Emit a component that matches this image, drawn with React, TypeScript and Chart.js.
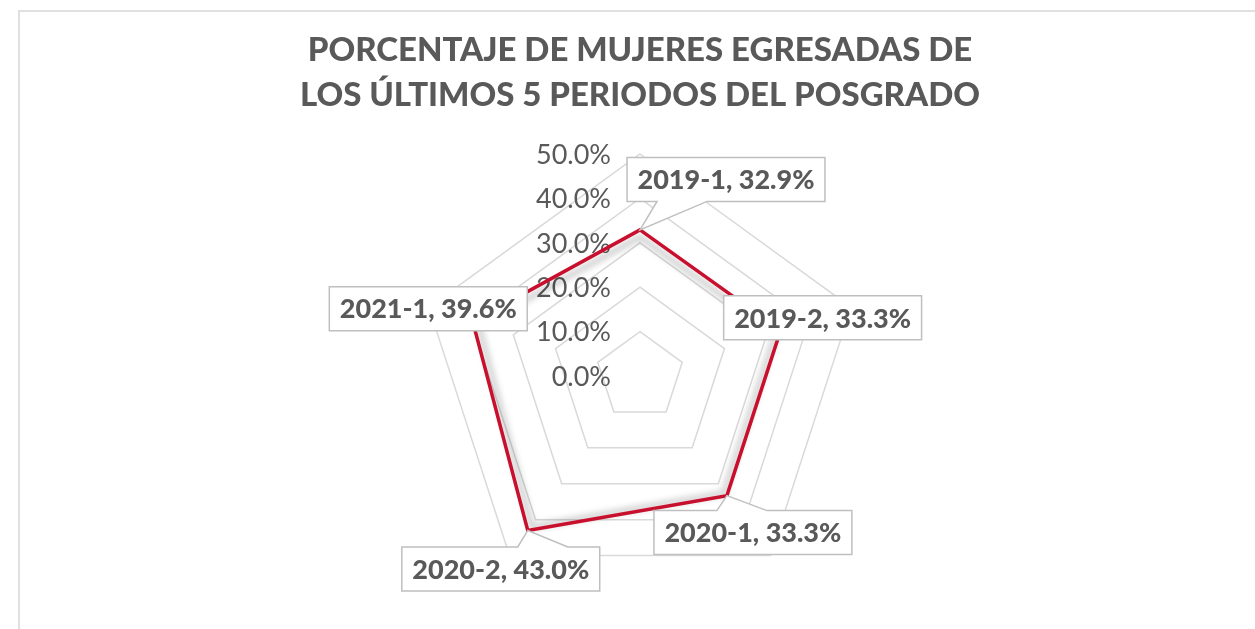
import React, { useEffect, useRef } from "react";
import { Chart, registerables } from "chart.js";

Chart.register(...registerables);

// ---- data ----
const categories = ["2019-1", "2019-2", "2020-1", "2020-2", "2021-1"];
const values = [32.9, 33.3, 33.3, 43.0, 39.6];
const axisMin = 0;
const axisMax = 50;
const axisStep = 10;
const titleLines = [
  "PORCENTAJE DE MUJERES EGRESADAS DE",
  "LOS ÚLTIMOS 5 PERIODOS DEL POSGRADO",
];

// ---- style ----
const TEXT_COLOR = "#595959";
const LINE_COLOR = "#C8102E";
const GRID_COLOR = "#d9d9d9";
const BOX_BORDER = "#bfbfbf";
// callout box centre offset relative to its data point (style only)
const LABEL_OFFSETS: [number, number][] = [
  [86, -50.5],
  [42, -12.5],
  [26, 37],
  [-27, 38.5],
  [-44.5, -13],
];

const fmtPct = (v: number) => v.toFixed(1) + "%";

const radarDecor = {
  id: "radarDecor",
  beforeDatasetsDraw(chart: any) {
    const scale = chart.scales.r;
    const ctx: CanvasRenderingContext2D = chart.ctx;
    // radial tick labels, right aligned left of the vertical axis
    ctx.save();
    ctx.font = "400 27px Lato";
    ctx.fillStyle = TEXT_COLOR;
    ctx.textAlign = "right";
    ctx.textBaseline = "middle";
    scale.ticks.forEach((t: any) => {
      const d = scale.getDistanceFromCenterForValue(t.value);
      ctx.fillText(fmtPct(t.value), scale.xCenter - 29, scale.yCenter - d + 1);
    });
    ctx.restore();

    // soft shadow under the series line
    const meta = chart.getDatasetMeta(0);
    ctx.save();
    ctx.beginPath();
    meta.data.forEach((p: any, i: number) => {
      const x = scale.xCenter + (p.x - scale.xCenter) * 0.965;
      const y = scale.yCenter + (p.y - scale.yCenter) * 0.965 + 2;
      if (i === 0) ctx.moveTo(x, y);
      else ctx.lineTo(x, y);
    });
    ctx.closePath();
    ctx.strokeStyle = "rgba(0,0,0,0.22)";
    ctx.lineWidth = 5;
    ctx.lineJoin = "round";
    (ctx as any).filter = "blur(3px)";
    ctx.stroke();
    ctx.restore();
  },
  afterDatasetsDraw(chart: any) {
    const ctx: CanvasRenderingContext2D = chart.ctx;
    const meta = chart.getDatasetMeta(0);
    const labels = chart.data.labels as string[];
    const data = chart.data.datasets[0].data as number[];
    ctx.save();
    ctx.font = "900 27px Lato";
    meta.data.forEach((p: any, i: number) => {
      const text = `${labels[i]}, ${fmtPct(data[i])}`;
      const tw = ctx.measureText(text).width;
      const w = tw + 21;
      const h = 44;
      const [ox, oy] = LABEL_OFFSETS[i];
      const cx = p.x + ox;
      const cy = p.y + oy;
      const left = cx - w / 2;
      const right = cx + w / 2;
      const top = cy - h / 2;
      const bottom = cy + h / 2;
      const tx = p.x;
      const ty = p.y;
      const b1 = Math.max(left + 30, tx - 10);
      const b2 = Math.min(b1 + 50, right - 10);

      ctx.beginPath();
      if (ty > bottom + 2) {
        ctx.moveTo(left, top);
        ctx.lineTo(right, top);
        ctx.lineTo(right, bottom);
        ctx.lineTo(b2, bottom);
        ctx.lineTo(tx, ty);
        ctx.lineTo(b1, bottom);
        ctx.lineTo(left, bottom);
      } else if (ty < top - 2) {
        ctx.moveTo(left, top);
        ctx.lineTo(b1, top);
        ctx.lineTo(tx, ty);
        ctx.lineTo(b2, top);
        ctx.lineTo(right, top);
        ctx.lineTo(right, bottom);
        ctx.lineTo(left, bottom);
      } else {
        ctx.rect(left, top, w, h);
      }
      ctx.closePath();
      ctx.fillStyle = "#ffffff";
      ctx.fill();
      ctx.strokeStyle = BOX_BORDER;
      ctx.lineWidth = 1.5;
      ctx.lineJoin = "miter";
      ctx.stroke();

      ctx.fillStyle = TEXT_COLOR;
      ctx.textAlign = "center";
      ctx.textBaseline = "middle";
      ctx.fillText(text, cx, cy + 1);
    });
    ctx.restore();
  },
};

export default function App() {
  const canvasRef = useRef<HTMLCanvasElement | null>(null);

  useEffect(() => {
    const canvas = canvasRef.current;
    if (!canvas) return;
    const chart = new Chart(canvas, {
      type: "radar",
      data: {
        labels: categories,
        datasets: [
          {
            label: "Mujeres egresadas",
            data: values,
            borderColor: LINE_COLOR,
            backgroundColor: "rgba(0,0,0,0)",
            borderWidth: 3.5,
            pointRadius: 0,
            pointHoverRadius: 0,
            fill: false,
            tension: 0,
          },
        ],
      },
      options: {
        responsive: false,
        animation: false,
        devicePixelRatio: 1,
        layout: { padding: { left: 25, right: 0, top: 0, bottom: 30 } },
        plugins: {
          legend: { display: false },
          tooltip: { enabled: false },
          title: {
            display: true,
            text: titleLines,
            color: TEXT_COLOR,
            font: { family: "Lato", size: 33, weight: "900", lineHeight: 1.36 },
            padding: { top: 28, bottom: 37.2 },
          },
        },
        scales: {
          r: {
            min: axisMin,
            max: axisMax,
            ticks: { stepSize: axisStep, display: false },
            grid: { color: GRID_COLOR, lineWidth: 1.5 },
            angleLines: { display: false },
            pointLabels: { display: false },
          },
        },
      },
      plugins: [radarDecor],
    });
    return () => chart.destroy();
  }, []);

  return (
    <div
      style={{
        position: "fixed",
        inset: 0,
        overflow: "hidden",
        background: "#ffffff",
      }}
    >
      <div
        style={{
          position: "absolute",
          left: 18,
          top: 10,
          width: 1400,
          height: 900,
          border: "2px solid #e0e0e0",
          boxSizing: "border-box",
        }}
      />
      <canvas
        ref={canvasRef}
        width={1255}
        height={629}
        style={{ position: "absolute", left: 0, top: 0, width: 1255, height: 629 }}
      />
    </div>
  );
}
